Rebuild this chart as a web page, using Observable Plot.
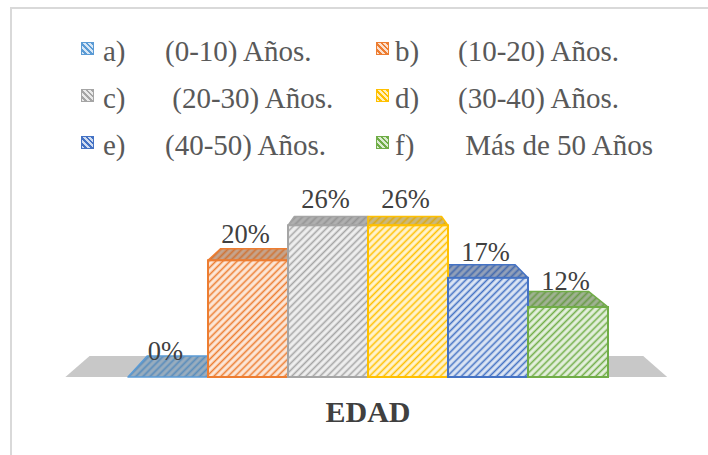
<!DOCTYPE html>
<html>
<head>
<meta charset="utf-8">
<script src="https://cdn.jsdelivr.net/npm/d3@7"></script>
<script src="https://cdn.jsdelivr.net/npm/@observablehq/plot@0.6"></script>
<style>
  html, body { margin: 0; padding: 0; background: #fff; }
  #chart { position: relative; width: 708px; height: 455px; overflow: hidden; }
  #frame { position: absolute; left: 10px; top: 7px; width: 720px; height: 470px; border-top: 2px solid #d9d9d9; border-left: 2px solid #d9d9d9; }
  #legend { position: relative; height: 185px; }
  #legend span { position: absolute; font-size: 29px; line-height: 29px; color: #595959; white-space: pre; }
  #legend i { position: absolute; width: 11px; height: 11px; }
  #plot { position: relative; height: 200px; }
  #title { position: relative; margin-top: 12px; padding-left: 28px; text-align: center; font-size: 30px; line-height: 30px; font-weight: bold; color: #404040; }
</style>
</head>
<body>
<div id="chart">
  <div id="frame"></div>
  <div id="legend"></div>
  <div id="plot"></div>
  <div id="title"></div>
</div>
<svg width="0" height="0" style="position:absolute">
  <defs id="defs"></defs>
</svg>
<script>
// ---- data ----
const cats = ["a", "b", "c", "d", "e", "f"];
const letters = ["a)", "b)", "c)", "d)", "e)", "f)"];
const ranges = ["(0-10) Años.", "(10-20) Años.", " (20-30) Años.", "(30-40) Años.", "(40-50) Años.", " Más de 50 Años"];
const values = [0, 20, 26, 26, 17, 12];
const labels = ["0%", "20%", "26%", "26%", "17%", "12%"];
const colors = ["#5B9BD5", "#ED7D31", "#A5A5A5", "#FFC000", "#4472C4", "#70AD47"];
const titleText = "EDAD";

const FONT = '"Liberation Serif", Tinos, "Times New Roman", monospace';
const rows = cats.map((c, i) => ({cat: c, value: values[i], label: labels[i], color: colors[i], i}));

// ---- hatch patterns ----
const defs = d3.select("#defs");
rows.forEach(d => {
  const front = defs.append("pattern").attr("id", "front" + d.i)
    .attr("patternUnits", "userSpaceOnUse").attr("width", 5).attr("height", 5)
    .attr("patternTransform", "rotate(45)");
  front.append("rect").attr("width", 5).attr("height", 5).attr("fill", d3.interpolateRgb("#ffffff", d.color)(0.18));
  front.append("line").attr("x1", 1.5).attr("x2", 1.5).attr("y1", 0).attr("y2", 5)
    .attr("stroke", d.color).attr("stroke-width", 1.6);
  const top = defs.append("pattern").attr("id", "top" + d.i)
    .attr("patternUnits", "userSpaceOnUse").attr("width", 5).attr("height", 5)
    .attr("patternTransform", "rotate(45)");
  top.append("rect").attr("width", 5).attr("height", 5).attr("fill", d3.interpolateRgb("#b4b4b4", d.color)(0.3));
  top.append("line").attr("x1", 1.5).attr("x2", 1.5).attr("y1", 0).attr("y2", 5)
    .attr("stroke", d3.interpolateRgb(d.color, "#555")(0.2)).attr("stroke-width", 1.8);
});

// ---- legend ----
const legend = d3.select("#legend");
const colX = [[81, 103, 165], [376, 395, 458]];
const rowBase = [61, 108, 155];
rows.forEach(d => {
  const c = d.i % 2, r = Math.floor(d.i / 2);
  const [mx, lx, tx] = colX[c];
  const base = rowBase[r];
  legend.append("i")
    .style("left", mx + "px").style("top", (base - 19) + "px")
    .style("border", "1px solid " + d.color)
    .style("background", `repeating-linear-gradient(45deg, ${d3.interpolateRgb("#fff", d.color)(0.25)} 0 2px, ${d.color} 2px 4px)`);
  legend.append("span").style("left", lx + "px").style("top", (base - 24) + "px")
    .style("font-family", FONT).text(letters[d.i]);
  legend.append("span").style("left", tx + "px").style("top", (base - 24) + "px")
    .style("font-family", FONT).text(ranges[d.i]);
});

// ---- 3D faces (floor and bar tops) drawn from Plot's scales ----
function faces(index, scales, values, dims) {
  const x = scales.x, y = scales.y;
  const bw = x.bandwidth();
  const r0 = dims.marginLeft, r1 = dims.width - dims.marginRight;
  const vx = (r0 + r1) / 2;
  const y0 = y(0);
  const vy = y(45);
  const k = 0.92;
  const back = ([px, py]) => [vx + (px - vx) * k, vy + (py - vy) * k];
  const path = pts => "M" + pts.map(p => p.join(",")).join("L") + "Z";
  const g = d3.create("svg:g");
  const fl = r0 - 0.77 * bw, fr = r1 + 0.74 * bw;
  g.append("path").attr("d", path([[fl, y0], [fr, y0], back([fr, y0]), back([fl, y0])])).attr("fill", "#c8c8c8");
  rows.forEach(d => {
    const xl = x(d.cat), xr = xl + bw, yt = y(d.value);
    g.append("path").attr("d", path([[xl, yt], [xr, yt], back([xr, yt]), back([xl, yt])]))
      .attr("fill", `url(#top${d.i})`).attr("stroke", d.color).attr("stroke-width", 1.5)
      .attr("stroke-linejoin", "round");
  });
  return g.node();
}

const plot = Plot.plot({
  width: 708,
  height: 200,
  marginLeft: 127,
  marginRight: 100,
  marginTop: 17,
  marginBottom: 8,
  x: {domain: cats, padding: 0, axis: null},
  y: {domain: [0, 30], axis: null},
  style: {background: "transparent", overflow: "visible", fontFamily: FONT},
  marks: [
    faces,
    rows.filter(d => d.value > 0).map(d => Plot.barY([d], {
      x: "cat", y: "value",
      fill: `url(#front${d.i})`, stroke: d.color, strokeWidth: 2
    })),
    Plot.text(rows, {
      x: "cat", y: "value", text: "label",
      dy: -26, dx: -3, fontSize: 26.5, fontFamily: FONT, fill: "#404040"
    })
  ]
});
document.getElementById("plot").appendChild(plot);
d3.select("#title").style("font-family", FONT).text(titleText);
</script>
</body>
</html>
